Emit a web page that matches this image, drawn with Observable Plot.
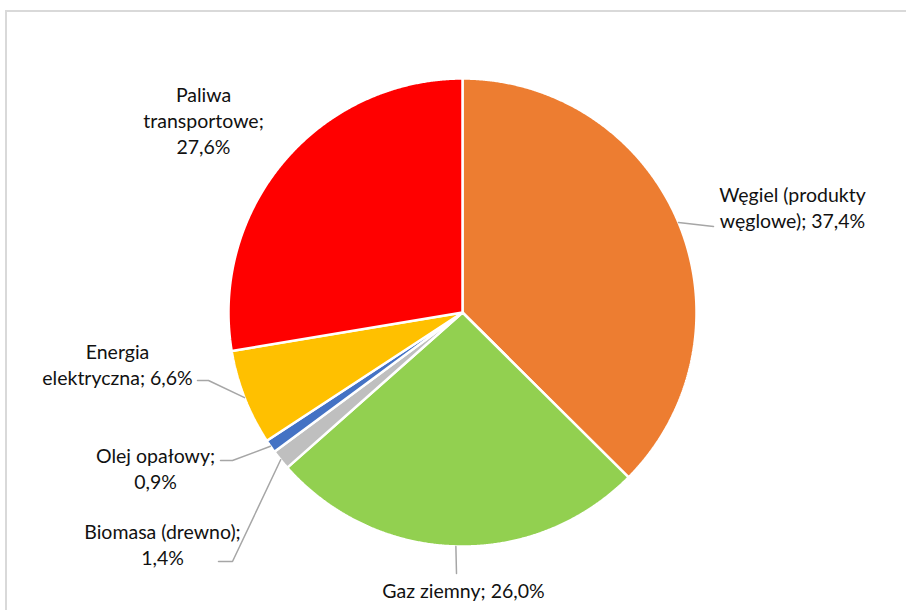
<!DOCTYPE html>
<html><head><meta charset="utf-8">
<script src="https://cdn.jsdelivr.net/npm/d3@7"></script>
<script src="https://cdn.jsdelivr.net/npm/@observablehq/plot@0.6"></script>
<style>
html,body{margin:0;padding:0;background:#fff;overflow:hidden;width:906px;height:610px;}
#chart{position:absolute;left:0;top:0;}
#frame{position:absolute;left:5px;top:10px;width:950px;height:650px;border-left:2px solid #d9d9d9;border-top:2px solid #d9d9d9;pointer-events:none;}
</style></head><body>
<div id="chart"></div><div id="frame"></div>
<script>
// ---- data ----
const categories = ["Węgiel (produkty węglowe)", "Gaz ziemny", "Biomasa (drewno)", "Olej opałowy", "Energia elektryczna", "Paliwa transportowe"];
const shares = [37.4, 26.0, 1.4, 0.9, 6.6, 27.6];
const labelTexts = ["Węgiel (produkty\nwęglowe); 37,4%", "Gaz ziemny; 26,0%", "Biomasa (drewno);\n1,4%", "Olej opałowy;\n0,9%", "Energia\nelektryczna; 6,6%", "Paliwa\ntransportowe;\n27,6%"];
const colors = ["#ED7D31", "#92D050", "#BFBFBF", "#4472C4", "#FFC000", "#FF0000"];

// ---- layout (pixels) ----
const W = 906, H = 610, CX = 462, CY = 312, R = 234;
const labelLayout = [
  {tx: 792, ty: 206, leader: [[713, 226]]},
  {tx: 463, ty: 589, leader: [[456, 573]]},
  {tx: 162, ty: 543, leader: [[232, 561], [218, 561]]},
  {tx: 155, ty: 467, leader: [[232, 460], [220, 460]]},
  {tx: 117, ty: 363, leader: [[208, 380], [197, 380]]},
  {tx: 203, ty: 119, leader: null}
];
const ux = px => (px - CX) / R;
const uy = py => (CY - py) / R;

const rows = categories.map((c, i) => ({name: c, value: shares[i], i}));
const arcs = d3.pie().value(d => d.value).sort(null)(rows);

// slice polygons in unit coordinates (angle 0 at top, clockwise)
const slicePts = [];
arcs.forEach(a => {
  const name = a.data.name;
  slicePts.push({name, x: 0, y: 0});
  const n = Math.max(2, Math.ceil((a.endAngle - a.startAngle) / 0.005));
  for (let k = 0; k <= n; k++) {
    const t = a.startAngle + (a.endAngle - a.startAngle) * k / n;
    slicePts.push({name, x: Math.sin(t), y: Math.cos(t)});
  }
  slicePts.push({name, x: 0, y: 0});
});

const leaderPts = [];
arcs.forEach((a, i) => {
  const L = labelLayout[i];
  if (!L.leader) return;
  const m = (a.startAngle + a.endAngle) / 2;
  leaderPts.push({name: a.data.name, x: Math.sin(m), y: Math.cos(m)});
  L.leader.forEach(p => leaderPts.push({name: a.data.name, x: ux(p[0]), y: uy(p[1])}));
});

const labels = rows.map((d, i) => ({text: labelTexts[i], x: ux(labelLayout[i].tx), y: uy(labelLayout[i].ty)}));

const chart = Plot.plot({
  width: W, height: H,
  margin: 0,
  style: {background: "transparent", fontFamily: "Lato, 'Open Sans', sans-serif"},
  x: {domain: [ux(0), ux(W)], range: [0, W], axis: null},
  y: {domain: [uy(H), uy(0)], range: [H, 0], axis: null},
  color: {domain: categories, range: colors},
  marks: [
    Plot.line(slicePts, {x: "x", y: "y", z: "name", fill: "name", stroke: "white", strokeWidth: 2.5, strokeLinejoin: "miter", curve: "linear"}),
    Plot.line(leaderPts, {x: "x", y: "y", z: "name", stroke: "#a6a6a6", strokeWidth: 1.5}),
    Plot.text(labels, {x: "x", y: "y", text: "text", textAnchor: "middle", lineAnchor: "middle", fontSize: 19.5, lineHeight: 1.33, fill: "#111"})
  ]
});
document.getElementById("chart").appendChild(chart);
</script>
</body></html>
